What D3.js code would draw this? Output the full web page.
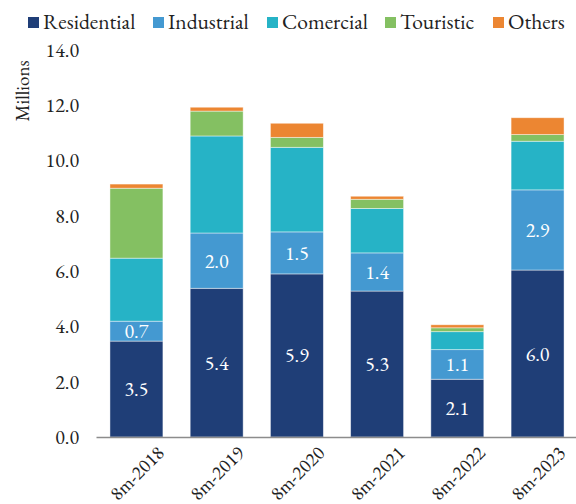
<!DOCTYPE html>
<html><head><meta charset="utf-8">
<script src="https://cdn.jsdelivr.net/npm/d3@7"></script>
<style>body{margin:0;background:#fff}svg{display:block}</style>
</head><body><svg id="c" width="576" height="504"></svg>
<script>
const categories = ["8m-2018","8m-2019","8m-2020","8m-2021","8m-2022","8m-2023"];
const seriesNames = ["Residential","Industrial","Comercial","Touristic","Others"];
const residential = [3.47, 5.38, 5.9, 5.28, 2.09, 6.04];
const industrial  = [0.72, 2.0, 1.52, 1.38, 1.07, 2.9];
const comercial   = [2.28, 3.51, 3.06, 1.61, 0.65, 1.76];
const touristic   = [2.53, 0.9, 0.36, 0.33, 0.14, 0.24];
const others      = [0.15, 0.14, 0.51, 0.11, 0.11, 0.61];
const yTicks = [0,2,4,6,8,10,12,14];
const colors = ["#1F3E77","#4499D1","#26B3C6","#84C062","#EC8632"];
const labeled = ["Residential","Industrial"];

const FONT = '"EB Garamond"';
const svg = d3.select("#c");
const seriesVals = [residential, industrial, comercial, touristic, others];
const rows = categories.map((c,i)=>{const o={cat:c}; seriesNames.forEach((s,j)=>o[s]=seriesVals[j][i]); return o;});
const stack = d3.stack().keys(seriesNames)(rows);

const x = d3.scaleBand().domain(categories).range([96,578]).paddingInner(0.34).paddingOuter(0.174);
const y = d3.scaleLinear().domain([0,14]).range([437,50]);
const color = d3.scaleOrdinal().domain(seriesNames).range(colors);

const g = svg.append("g");
stack.forEach(layer=>{
  g.append("g").selectAll("rect").data(layer).join("rect")
    .attr("x", d=>x(d.data.cat))
    .attr("width", x.bandwidth())
    .attr("y", d=>y(d[1]))
    .attr("height", d=>y(d[0])-y(d[1]))
    .attr("fill", color(layer.key))
    .attr("stroke","#fff").attr("stroke-opacity",0.55).attr("stroke-width",0.8);
  if (labeled.includes(layer.key)) {
    g.append("g").selectAll("text").data(layer).join("text")
      .attr("x", d=>x(d.data.cat)+x.bandwidth()/2)
      .attr("y", d=>(y(d[0])+y(d[1]))/2)
      .attr("dy","0.35em")
      .attr("text-anchor","middle")
      .attr("fill","#fff")
      .style("font-family",FONT).style("font-size","20px")
      .text(d=>(d[1]-d[0]).toFixed(1));
  }
});

const yAxis = d3.axisLeft(y).tickValues(yTicks).tickFormat(d=>d.toFixed(1)).tickSize(0).tickPadding(0);
const ya = svg.append("g").attr("transform","translate(79,0)").call(yAxis);
ya.select(".domain").remove();
ya.selectAll("text").style("font-family",FONT).style("font-size","20px").attr("fill","#222");

const xAxis = d3.axisBottom(x).tickSize(0).tickPadding(0);
const xa = svg.append("g").attr("transform","translate(0,437)").call(xAxis);
xa.select(".domain").attr("stroke","#8c8c8c").attr("stroke-width",1.5);
xa.selectAll("text")
  .style("font-family",FONT).style("font-size","19.5px").attr("fill","#222")
  .attr("text-anchor","end").attr("dy",null).attr("y",0)
  .attr("transform","translate(29,17) rotate(-45)");

svg.append("text").attr("transform","translate(29,91) rotate(-90)")
  .attr("text-anchor","middle").style("font-family",FONT).style("font-size","19px")
  .attr("fill","#222").text("Millions");

const legX = [28,153,267,385,493];
const leg = svg.append("g");
seriesNames.forEach((s,i)=>{
  leg.append("rect").attr("x",legX[i]).attr("y",17).attr("width",11).attr("height",11).attr("fill",colors[i]);
  leg.append("text").attr("x",legX[i]+15).attr("y",28.5).style("font-family",FONT).style("font-size","21.5px")
    .attr("fill","#222").text(s);
});
</script></body></html>
